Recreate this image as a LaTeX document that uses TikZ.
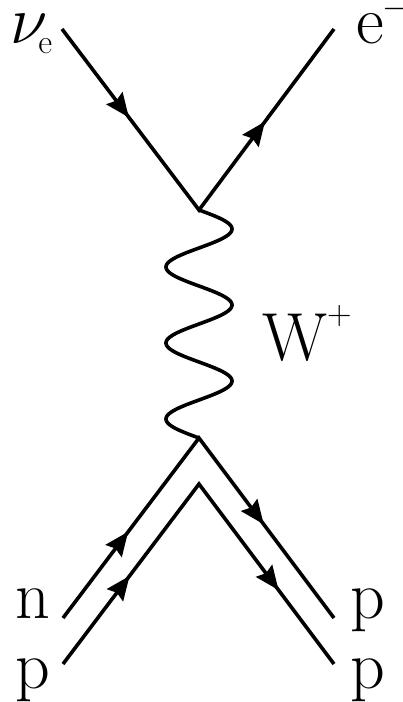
\documentclass[tikz,border=0pt]{standalone}
\DeclareFontShape{OML}{cmm}{m}{it}{<->cmmi12}{}
\DeclareFontShape{OMS}{cmsy}{m}{n}{<->cmsy10}{}
\usetikzlibrary{arrows.meta,decorations.markings}
\tikzset{
  line/.style={line width=3.6pt, line cap=butt, line join=miter},
  arr/.tip={Stealth[length=24pt,width=20pt,inset=3pt]},
  twoarrows/.style 2 args={postaction={decorate},
    decoration={markings,
      mark=at position #1 with {\arrow{arr}},
      mark=at position #2 with {\arrow{arr}}}},
  lbl/.style={inner sep=0pt, anchor=base west, font=\fontsize{68}{70}\selectfont}
}
\newcommand\smallsz{\fontsize{34}{34}\selectfont}
\begin{document}
\begin{tikzpicture}[x=1pt,y=-1pt]
\useasboundingbox (0,0) rectangle (403,702);
% vertices
\coordinate (nuS) at (62,29);
\coordinate (v1)  at (199,210);
\coordinate (eE)  at (334,29);
\coordinate (v2)  at (199,438);
\coordinate (nS)  at (63,618);
\coordinate (pE1) at (334,618);
\coordinate (pS)  at (63,664);
\coordinate (a2)  at (199,484);
\coordinate (pE2) at (334,664);
% lepton lines
\draw[line, twoarrows={0.245}{0.745}] (nuS) -- (v1) -- (eE);
% W boson
\draw[line, shift={(v1)}] plot[domain=0:1, samples=301, smooth, variable=\t]
  ({33*sin(1080*\t)}, {228*\t});
% quark lines
\draw[line, twoarrows={0.24}{0.74}] (nS) -- (v2) -- (pE1);
\draw[line, twoarrows={0.245}{0.795}] (pS) -- (a2) -- (pE2);
% labels
\node[lbl] (lnu) at (10,43) {$\nu$\kern-9pt\raisebox{-10pt}{\smallsz e}};
\node[lbl] (le)  at (356,43) {e\kern-1pt\raisebox{26pt}{\smallsz $-$}};
\node[lbl] (lW)  at (262,360) {W\raisebox{36pt}{\smallsz +}};
\node[lbl] (ln)  at (15,618) {n};
\node[lbl] (lp1) at (15,688) {p};
\node[lbl] (lp2) at (350,618) {p};
\node[lbl] (lp3) at (350,688) {p};
\end{tikzpicture}
\end{document}
